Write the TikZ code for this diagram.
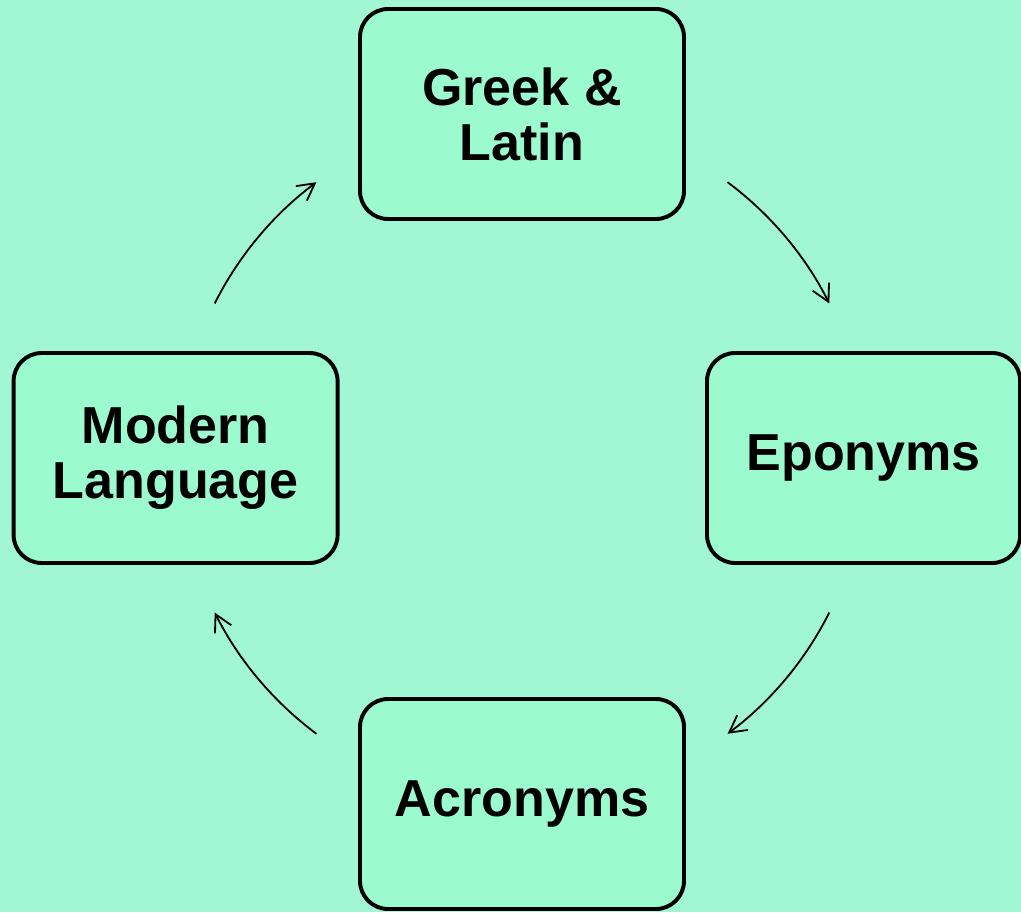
\documentclass[tikz,border=0pt]{standalone}
\usepackage{fontspec}
\setmainfont{Liberation Sans}
\definecolor{mintbg}{RGB}{161, 247, 211}
\definecolor{mintbox}{RGB}{156, 251, 206}
\usepackage{tikz}
\usetikzlibrary{arrows.meta, positioning, calc}

\begin{document}
\begin{tikzpicture}[
    stage/.style={draw=black, line width=2.8pt, fill=mintbox, rounded corners=20pt,
      minimum width=8.1cm, minimum height=5.25cm, align=center,
      font=\fontsize{37}{39}\selectfont\bfseries},
    cycarrow/.style={line width=1.3pt, -{Straight Barb[length=12pt, width=13pt, line width=1.3pt]}}
  ]
  % page and background
  \useasboundingbox (-13.05,-11.35) rectangle (12.475,11.45);
  \fill[mintbg] (-13.05,-11.35) rectangle (12.475,11.45);
  \coordinate (hub) at (0,0);

  % the four stages
  \node[stage] (greek) at (0,8.6) {Greek \&\\Latin};
  \node[stage, minimum width=7.83cm] (epon) at (8.54,0) {Eponyms};
  \node[stage] (acro) at (0,-8.65) {Acronyms};
  \node[stage] (modern) at (-8.66,0) {Modern\\Language};

  % clockwise arcs round the hub
  \draw[cycarrow] ([shift={(53.3:8.6)}]hub) arc[start angle=53.3, end angle=26.7, radius=8.6];
  \draw[cycarrow] ([shift={(-26.7:8.6)}]hub) arc[start angle=-26.7, end angle=-53.3, radius=8.6];
  \draw[cycarrow] ([shift={(-126.7:8.6)}]hub) arc[start angle=-126.7, end angle=-153.3, radius=8.6];
  \draw[cycarrow] ([shift={(153.3:8.6)}]hub) arc[start angle=153.3, end angle=126.7, radius=8.6];
\end{tikzpicture}
\end{document}
